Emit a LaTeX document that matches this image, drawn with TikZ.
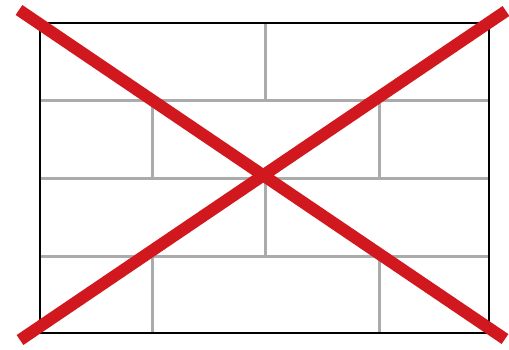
\documentclass[tikz,border=0pt]{standalone}
\usetikzlibrary{positioning}

\begin{document}
\begin{tikzpicture}[x=1pt,y=-1pt]
\tikzset{
  brickline/.style={draw=black!33,line width=3pt},
  wallframe/.style={draw=black,line width=2.6pt,line join=miter},
  crossline/.style={draw=crossred,line width=12pt}
}
\definecolor{crossred}{RGB}{208,24,30}
\useasboundingbox (0,0) rectangle (509,349);
% frame corners
\coordinate (w_tl) at (40,23);
\coordinate (w_tr) at (489,23);
\coordinate (w_br) at (489,333);
\coordinate (w_bl) at (40,333);
% brick courses
\foreach \y in {100,178,256}
  \draw[brickline] (40,\y) -- (489,\y);
\draw[brickline] (265,23) -- (265,100);
\draw[brickline] (265,178) -- (265,256);
\foreach \x in {152,379} {
  \draw[brickline] (\x,100) -- (\x,178);
  \draw[brickline] (\x,256) -- (\x,333);
}
\draw[wallframe] (w_tl) -- (w_tr) -- (w_br) -- (w_bl) -- cycle;
% the cross
\coordinate (x_tl) at (19,10);
\coordinate (x_br) at (505,339);
\coordinate (x_tr) at (506,11);
\coordinate (x_bl) at (20,340);
\draw[crossline] (x_tl) -- (x_br);
\draw[crossline] (x_tr) -- (x_bl);
\end{tikzpicture}
\end{document}
